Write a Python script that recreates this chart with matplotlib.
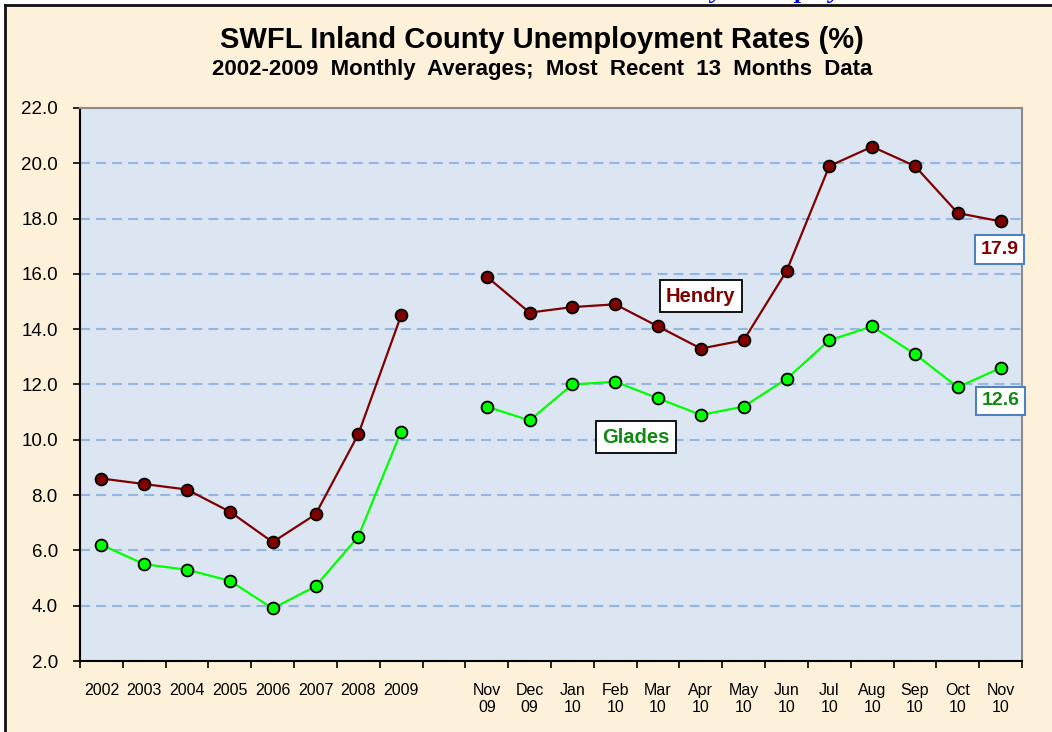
import matplotlib
matplotlib.use("Agg")
import matplotlib.pyplot as plt
import numpy as np
from matplotlib.lines import Line2D
from matplotlib.patches import Rectangle

# categories: 8 annual averages, an empty spacer, then 13 months
years = ["2002", "2003", "2004", "2005", "2006", "2007", "2008", "2009"]
months = ["Nov\n09", "Dec\n09", "Jan\n10", "Feb\n10", "Mar\n10", "Apr\n10", "May\n10",
          "Jun\n10", "Jul\n10", "Aug\n10", "Sep\n10", "Oct\n10", "Nov\n10"]
categories = years + [""] + months

hendry_years = [8.6, 8.4, 8.2, 7.4, 6.3, 7.3, 10.2, 14.5]
hendry_months = [15.9, 14.6, 14.8, 14.9, 14.1, 13.3, 13.6, 16.1, 19.9, 20.6, 19.9, 18.2, 17.9]
glades_years = [6.2, 5.5, 5.3, 4.9, 3.9, 4.7, 6.5, 10.3]
glades_months = [11.2, 10.7, 12.0, 12.1, 11.5, 10.9, 11.2, 12.2, 13.6, 14.1, 13.1, 11.9, 12.6]

hendry = np.array(hendry_years + [np.nan] + hendry_months)
glades = np.array(glades_years + [np.nan] + glades_months)

plt.rcParams['font.family'] = ['Liberation Sans', 'DejaVu Sans']

fig = plt.figure(figsize=(10.52, 7.32), dpi=100, facecolor="white")
W, H = 1052, 732
# parchment panel with dark frame on top/left
fig.add_artist(Rectangle((5 / W, 0), 1, 1 - 5 / H, transform=fig.transFigure,
                         facecolor="#FDF2D9", edgecolor="none", zorder=-10))
fig.add_artist(Line2D([5 / W, 1], [1 - 5 / H, 1 - 5 / H], transform=fig.transFigure,
                      color="#111111", lw=2))
fig.add_artist(Line2D([5 / W, 5 / W], [0, 1 - 5 / H], transform=fig.transFigure,
                      color="#111111", lw=2))
# cut-off heading from the page above (only descenders show)
fig.text(0.612, 1 + 2 / H, "County Unemployment", color="#0000EE", fontsize=19,
         fontweight="bold", fontstyle="italic", family="Liberation Serif",
         ha="left", va="baseline")

ax = fig.add_axes([80 / W, 1 - 661 / H, 942 / W, 553 / H])
ax.set_facecolor("#DCE6F2")

x = np.arange(len(categories))
ax.plot(x, hendry, color="#800000", lw=1.6, marker="o", markersize=8.5,
        markerfacecolor="#800000", markeredgecolor="black", markeredgewidth=1.3, zorder=3)
ax.plot(x, glades, color="#00FF00", lw=1.6, marker="o", markersize=8.5,
        markerfacecolor="#00FF00", markeredgecolor="black", markeredgewidth=1.3, zorder=3)

ax.set_xlim(-0.5, len(categories) - 0.5)
ax.set_ylim(2, 22)
ax.set_yticks(np.arange(2, 22.1, 2))
ax.set_yticklabels([f"{v:.1f}" for v in np.arange(2, 22.1, 2)], fontsize=13.5)
ax.set_xticks(np.arange(-0.5, len(categories), 1))
ax.set_xticklabels([])
ax.set_xticks(x, minor=True)
ax.set_xticklabels(categories, minor=True, fontsize=11.5, linespacing=1.15, va="top")
ax.tick_params(axis="x", which="major", length=5, width=1.2, direction="out")
ax.tick_params(axis="x", which="minor", length=0, pad=16)
ax.tick_params(axis="y", length=5, width=1.2, pad=11)

for v in np.arange(4, 21, 2):
    ax.axhline(v, color="#93B6E3", lw=1.5, ls=(0, (4.8, 2.9)), zorder=1)

for s in ["left", "bottom"]:
    ax.spines[s].set_color("black")
    ax.spines[s].set_linewidth(1.5)
for s in ["top", "right"]:
    ax.spines[s].set_color("#8C8C8C")
    ax.spines[s].set_linewidth(1.5)

box = dict(boxstyle="square,pad=0.3", facecolor="white", edgecolor="black", lw=1.3)
ax.text(0.659, 0.660, "Hendry", transform=ax.transAxes, color="#800000", fontsize=14.5,
        fontweight="bold", ha="center", va="center", bbox=box, zorder=4)
ax.text(0.590, 0.405, "Glades", transform=ax.transAxes, color="#118811", fontsize=14.5,
        fontweight="bold", ha="center", va="center", bbox=box, zorder=4)

endbox = dict(boxstyle="square,pad=0.3", facecolor="white", edgecolor="#4F81BD", lw=1.5)
ax.annotate(f"{hendry[-1]:.1f}", (x[-1], hendry[-1]), xytext=(-1, -28),
            textcoords="offset pixels", color="#800000", fontsize=14, fontweight="bold",
            ha="center", va="center", bbox=endbox, zorder=4)
ax.annotate(f"{glades[-1]:.1f}", (x[-1], glades[-1]), xytext=(0, -33),
            textcoords="offset pixels", color="#118811", fontsize=14, fontweight="bold",
            ha="center", va="center", bbox=endbox, zorder=4)

fig.text(542 / W, 1 - 40 / H, "SWFL Inland County Unemployment Rates (%)",
         fontsize=21, fontweight="bold", ha="center", va="center")
fig.text(542 / W, 1 - 69 / H, "2002-2009  Monthly  Averages;  Most  Recent  13  Months  Data",
         fontsize=16, fontweight="bold", ha="center", va="center")

fig.savefig("out.png", dpi=100, facecolor=fig.get_facecolor())
